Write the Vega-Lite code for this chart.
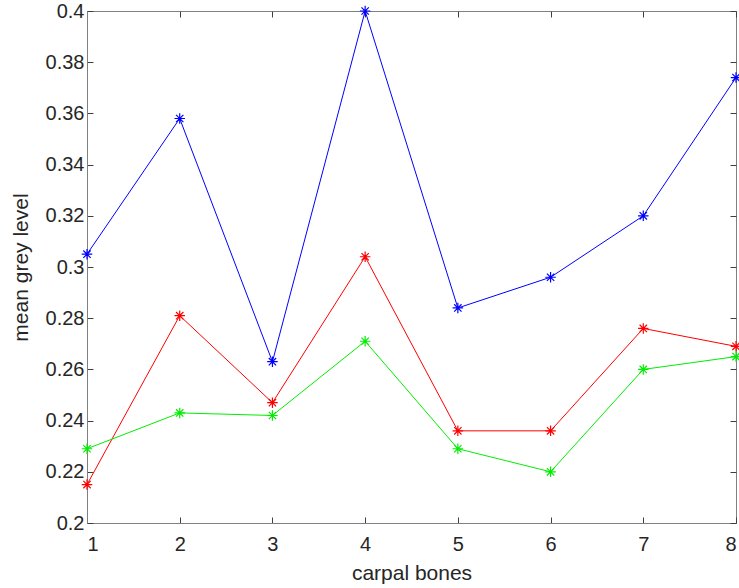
{
  "$schema": "https://vega.github.io/schema/vega-lite/v6.json",
  "width": 649,
  "height": 512,
  "autosize": "none",
  "padding": {"left": 87, "top": 11, "right": 3, "bottom": 65},
  "background": "white",
  "config": {
    "view": {"stroke": "#808080", "strokeWidth": 1},
    "axis": {
      "labelFont": "Liberation Sans",
      "titleFont": "Liberation Sans",
      "labelFontSize": 20,
      "titleFontSize": 21,
      "labelColor": "#262626",
      "titleColor": "#262626",
      "titleFontWeight": "normal",
      "domainColor": "#808080",
      "tickColor": "#404040",
      "tickSize": -6,
      "grid": false
    }
  },
  "data": {
    "values": [
      {"bone": 1, "series": "blue", "value": 0.305},
      {"bone": 2, "series": "blue", "value": 0.358},
      {"bone": 3, "series": "blue", "value": 0.263},
      {"bone": 4, "series": "blue", "value": 0.400},
      {"bone": 5, "series": "blue", "value": 0.284},
      {"bone": 6, "series": "blue", "value": 0.296},
      {"bone": 7, "series": "blue", "value": 0.320},
      {"bone": 8, "series": "blue", "value": 0.374},
      {"bone": 1, "series": "red", "value": 0.215},
      {"bone": 2, "series": "red", "value": 0.281},
      {"bone": 3, "series": "red", "value": 0.247},
      {"bone": 4, "series": "red", "value": 0.304},
      {"bone": 5, "series": "red", "value": 0.236},
      {"bone": 6, "series": "red", "value": 0.236},
      {"bone": 7, "series": "red", "value": 0.276},
      {"bone": 8, "series": "red", "value": 0.269},
      {"bone": 1, "series": "green", "value": 0.229},
      {"bone": 2, "series": "green", "value": 0.243},
      {"bone": 3, "series": "green", "value": 0.242},
      {"bone": 4, "series": "green", "value": 0.271},
      {"bone": 5, "series": "green", "value": 0.229},
      {"bone": 6, "series": "green", "value": 0.220},
      {"bone": 7, "series": "green", "value": 0.260},
      {"bone": 8, "series": "green", "value": 0.265}
    ]
  },
  "layer": [
    {
      "mark": {"type": "line", "strokeWidth": 1, "clip": false,
               "point": {"shape": "M-1,0L1,0M0,-1L0,1M-0.7,-0.7L0.7,0.7M-0.7,0.7L0.7,-0.7", "filled": false, "size": 110, "strokeWidth": 1.2, "opacity": 1}},
      "encoding": {
        "x": {"field": "bone", "type": "quantitative", "scale": {"domain": [1, 8], "nice": false, "zero": false},
              "axis": {"title": "carpal bones", "values": [1,2,3,4,5,6,7,8], "labelPadding": 17, "titlePadding": 8}},
        "y": {"field": "value", "type": "quantitative", "scale": {"domain": [0.2, 0.4], "nice": false, "zero": false},
              "axis": {"title": "mean grey level", "format": "~g", "values": [0.2,0.22,0.24,0.26,0.28,0.3,0.32,0.34,0.36,0.38,0.4], "labelPadding": 9, "titlePadding": 14}},
        "color": {"field": "series", "type": "nominal", "scale": {"domain": ["blue","red","green"], "range": ["#0000ff","#ff0000","#00ee00"]}, "legend": null}
      }
    },
    {
      "mark": {"type": "point", "opacity": 0},
      "encoding": {
        "x": {"field": "bone", "type": "quantitative", "scale": {"domain": [1, 8], "nice": false, "zero": false},
              "axis": {"orient": "top", "title": null, "labels": false, "values": [1,2,3,4,5,6,7,8], "domain": false}},
        "y": {"field": "value", "type": "quantitative", "scale": {"domain": [0.2, 0.4], "nice": false, "zero": false},
              "axis": {"orient": "right", "title": null, "labels": false, "values": [0.2,0.22,0.24,0.26,0.28,0.3,0.32,0.34,0.36,0.38,0.4], "domain": false}}
      }
    }
  ],
  "resolve": {"scale": {"x": "independent", "y": "independent"}}
}
